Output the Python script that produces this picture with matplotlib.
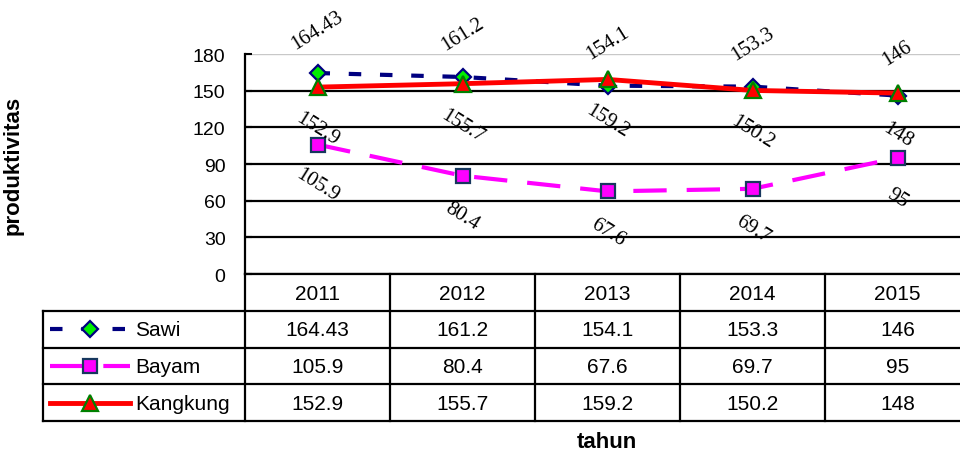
import matplotlib
matplotlib.use("Agg")
import matplotlib.pyplot as plt
from matplotlib.lines import Line2D

years = ["2011", "2012", "2013", "2014", "2015"]
sawi = [164.43, 161.2, 154.1, 153.3, 146]
bayam = [105.9, 80.4, 67.6, 69.7, 95]
kangkung = [152.9, 155.7, 159.2, 150.2, 148]
series_names = ["Sawi", "Bayam", "Kangkung"]
yticks = [0, 30, 60, 90, 120, 150, 180]

W, H = 960, 452
fig = plt.figure(figsize=(W / 100, H / 100), dpi=100)
SANS = "Liberation Sans"
SERIF = "Liberation Serif"

# pixel layout
L, R, T, B = 245, 970, 55, 275
ax = fig.add_axes([L / W, (H - B) / H, (R - L) / W, (B - T) / H])
x = list(range(len(years)))
ax.set_xlim(-0.5, len(years) - 0.5)
ax.set_ylim(0, 180)
ax.set_yticks(yticks)
ax.set_yticklabels([str(t) for t in yticks], fontsize=14, family=SANS)
ax.set_xticks([])
ax.tick_params(axis="y", direction="in", length=5, width=1.5, pad=14)
for s in ["top", "right"]:
    ax.spines[s].set_visible(False)
for s in ["left", "bottom"]:
    ax.spines[s].set_linewidth(1.6)
ax.yaxis.grid(True, color="black", linewidth=1.6)
ax.set_axisbelow(True)
gl = ax.get_ygridlines()
gl[-1].set_color("#c8c8c8")
gl[-1].set_linewidth(1.0)

styles = {
    "Sawi": dict(color="#000080", lw=3.0, dashes=(3, 4.5), marker="D", ms=8,
                 mfc="#00ee00", mec="#000080", mew=1.6),
    "Bayam": dict(color="#ff00ff", lw=3.0, dashes=(8, 4.8), marker="s", ms=10,
                  mfc="#ff00ff", mec="#17375e", mew=1.6),
    "Kangkung": dict(color="#ff0000", lw=3.5, ls="-", marker="^", ms=11,
                     mfc="#ff0000", mec="#008000", mew=1.6),
}
data = {"Sawi": sawi, "Bayam": bayam, "Kangkung": kangkung}

for name in ["Bayam", "Sawi", "Kangkung"]:
    ax.plot(x, data[name], clip_on=False, zorder=3, **styles[name])

def fmt(v):
    return f"{v:g}"

for i, v in enumerate(sawi):
    ax.annotate(fmt(v), (i, v), xytext=(0, 31), textcoords="offset points",
                rotation=32, ha="center", va="center", family=SERIF,
                fontsize=15, annotation_clip=False)
for i, v in enumerate(kangkung):
    ax.annotate(fmt(v), (i, v), xytext=(0, -30), textcoords="offset points",
                rotation=-32, ha="center", va="center", family=SERIF,
                fontsize=15, annotation_clip=False)
for i, v in enumerate(bayam):
    ax.annotate(fmt(v), (i, v), xytext=(0, -29), textcoords="offset points",
                rotation=-32, ha="center", va="center", family=SERIF,
                fontsize=15, annotation_clip=False)

ax.set_ylabel("produktivitas", fontsize=16, fontweight="bold", family=SANS,
              labelpad=0)
ax.yaxis.set_label_coords((24 - L) / (R - L), 0.5)

# data table
TB = 422
tax = fig.add_axes([L / W, (H - TB) / H, (R - L) / W, (TB - B) / H])
tax.set_xlim(-0.5, len(years) - 0.5)
nrows = len(series_names) + 1
tax.set_ylim(nrows, 0)
tax.axis("off")
colw = (R - L) / len(years)

def px2x(px):
    return -0.5 + (px - L) / colw

lw_t = 1.6
xl = px2x(43)
for r in range(1, nrows + 1):
    tax.add_line(Line2D([xl, len(years) - 0.5], [r, r], color="black", lw=lw_t,
                        clip_on=False))
for c in range(len(years)):
    tax.add_line(Line2D([c - 0.5, c - 0.5], [0, nrows], color="black", lw=lw_t,
                        clip_on=False))
tax.add_line(Line2D([xl, xl], [1, nrows], color="black", lw=lw_t, clip_on=False))

FS_T = 15
for c, yr in enumerate(years):
    tax.text(c, 0.52, yr, ha="center", va="center", fontsize=FS_T, family=SANS)
for r, name in enumerate(series_names, start=1):
    for c, v in enumerate(data[name]):
        tax.text(c, r + 0.52, fmt(v), ha="center", va="center", fontsize=FS_T,
                 family=SANS)
    st = dict(styles[name])
    tax.add_line(Line2D([px2x(50), px2x(90), px2x(130)], [r + 0.5] * 3,
                        markevery=[1], clip_on=False, **st))
    tax.text(px2x(135), r + 0.52, name, ha="left", va="center", fontsize=FS_T,
             family=SANS, clip_on=False)

fig.text(607 / W, 1 - 443 / H, "tahun", ha="center", va="center",
         fontsize=16, fontweight="bold", family=SANS)

fig.savefig("out.png", dpi=100)
